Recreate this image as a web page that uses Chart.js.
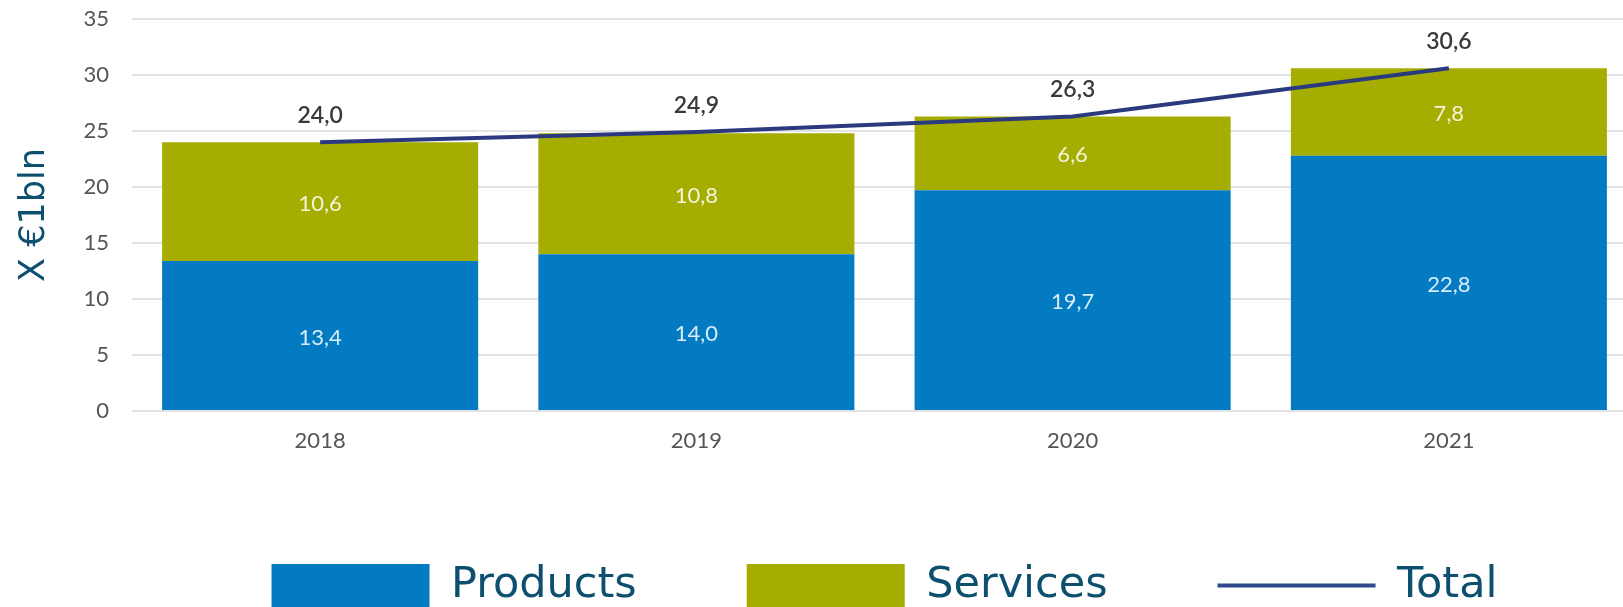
<!DOCTYPE html>
<html>
<head>
<meta charset="utf-8">
<script src="https://cdn.jsdelivr.net/npm/chart.js@4.4.1/dist/chart.umd.min.js"></script>
<style>
  html, body { margin: 0; padding: 0; background: #fff; overflow: hidden; }
  #wrap { position: relative; width: 1650px; height: 617px; }
</style>
</head>
<body>
<div id="wrap"><canvas id="chart"></canvas></div>
<script>
const years = ['2018', '2019', '2020', '2021'];
const products = [13.4, 14.0, 19.7, 22.8];
const services = [10.6, 10.8, 6.6, 7.8];
const totals = [24.0, 24.9, 26.3, 30.6];
const yTicks = [0, 5, 10, 15, 20, 25, 30, 35];

const fmt = (v) => v.toFixed(1).replace('.', ',');

// writes the figures inside the bars and above the total line
const valueLabels = {
  id: 'valueLabels',
  afterDatasetsDraw(chart) {
    const ctx = chart.ctx;
    ctx.save();
    ctx.textAlign = 'center';
    ctx.textBaseline = 'middle';
    chart.data.datasets.forEach((ds, i) => {
      const meta = chart.getDatasetMeta(i);
      meta.data.forEach((el, j) => {
        const text = fmt(ds.data[j]);
        if (ds.type === 'line') {
          ctx.font = '600 23px Lato';
          ctx.fillStyle = '#3a3a3a';
          ctx.fillText(text, el.x, el.y - 27);
        } else {
          ctx.font = '22px Lato';
          ctx.fillStyle = 'rgba(255,255,255,0.85)';
          ctx.fillText(text, el.x, (el.y + el.base) / 2 + 2);
        }
      });
    });
    ctx.restore();
  }
};

new Chart(document.getElementById('chart'), {
  data: {
    labels: years,
    datasets: [
      {
        type: 'bar',
        label: 'Products',
        data: products,
        backgroundColor: '#037bc3',
        stack: 'split',
        categoryPercentage: 0.84,
        barPercentage: 1
      },
      {
        type: 'bar',
        label: 'Services',
        data: services,
        backgroundColor: '#a5ae00',
        stack: 'split',
        categoryPercentage: 0.84,
        barPercentage: 1
      },
      {
        type: 'line',
        label: 'Total',
        data: totals,
        borderColor: '#2b3a7e',
        backgroundColor: '#2b3a7e',
        borderWidth: 4,
        pointRadius: 0,
        tension: 0,
        stack: 'total',
        order: -1
      }
    ]
  },
  options: {
    responsive: true,
    maintainAspectRatio: false,
    animation: false,
    layout: { padding: { left: 8, right: 13, top: 19, bottom: 0 } },
    plugins: {
      tooltip: { enabled: false },
      legend: {
        position: 'bottom',
        fullSize: false,
        labels: {
          usePointStyle: true,
          pointStyleWidth: 158,
          boxHeight: 44,
          padding: 110,
          color: '#0d4f6e',
          font: { family: 'DejaVu Sans', size: 43 },
          sort: (a, b) => a.datasetIndex - b.datasetIndex,
          generateLabels(chart) {
            const items = Chart.defaults.plugins.legend.labels.generateLabels(chart);
            return items.map((item) => {
              if (item.text === 'Total') {
                return { ...item, pointStyle: 'line', lineWidth: 4, strokeStyle: '#2e4a8c' };
              }
              return { ...item, pointStyle: 'rect', lineWidth: 0 };
            });
          }
        }
      }
    },
    scales: {
      x: {
        stacked: true,
        grid: { display: false, drawTicks: false },
        border: { display: false },
        ticks: {
          color: '#555555',
          font: { family: 'Lato', size: 22 },
          padding: 17
        },
        afterFit(scale) { scale.height = 43; }
      },
      y: {
        stacked: true,
        min: 0,
        max: 35,
        afterBuildTicks(scale) { scale.ticks = yTicks.map((v) => ({ value: v })); },
        grid: { color: '#e3e3e3', lineWidth: 2, drawTicks: false },
        border: { display: false },
        ticks: {
          color: '#555555',
          font: { family: 'Lato', size: 22 },
          padding: 23
        },
        title: {
          display: true,
          text: 'X €1bln',
          color: '#0d5070',
          font: { family: 'DejaVu Sans', size: 35 },
          padding: { top: 6, bottom: 0 }
        },
        afterFit(scale) {
          scale.width = 124;
          scale.paddingTop = 0;
          scale.paddingBottom = 0;
        }
      }
    }
  },
  plugins: [valueLabels]
});
</script>
</body>
</html>
